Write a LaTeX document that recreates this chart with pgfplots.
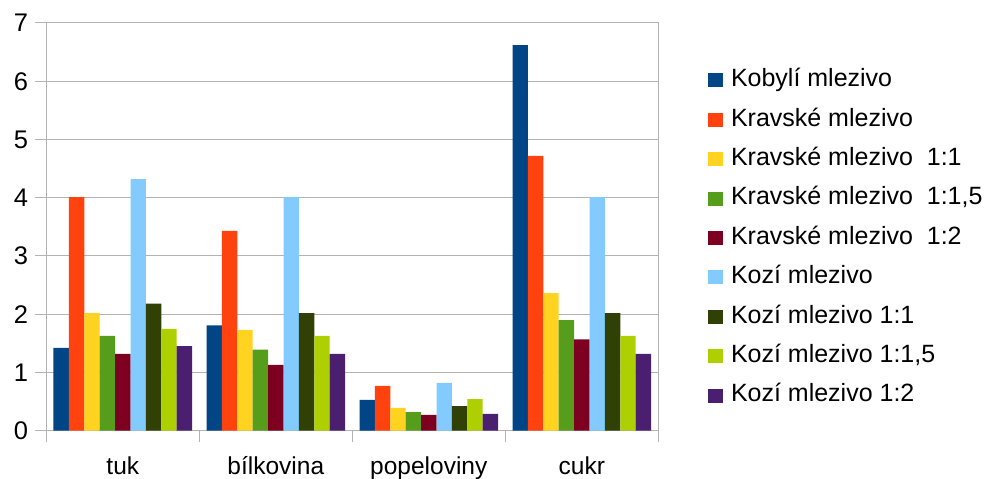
\documentclass[border=0pt]{standalone}
\usepackage{pgfplots}
\pgfplotsset{compat=1.18}
\usepackage{pgfplotstable}
\usepackage{fontspec}
\setmainfont{Liberation Sans}

\definecolor{c1}{HTML}{004586}
\definecolor{c2}{HTML}{FF420E}
\definecolor{c3}{HTML}{FFD320}
\definecolor{c4}{HTML}{579D1C}
\definecolor{c5}{HTML}{7E0021}
\definecolor{c6}{HTML}{83CAFF}
\definecolor{c7}{HTML}{314004}
\definecolor{c8}{HTML}{AECF00}
\definecolor{c9}{HTML}{4B1F6F}
\definecolor{gridgray}{HTML}{B3B3B3}

% composition of colostrum samples
\pgfplotstableread{
x kob krav krav11 krav115 krav12 koz koz11 koz115 koz12
0 1.42 4.01 2.02 1.63 1.32 4.32 2.18 1.75 1.45
1 1.81 3.43 1.73 1.39 1.13 4.01 2.02 1.63 1.32
2 0.53 0.77 0.39 0.32 0.27 0.82 0.42 0.54 0.29
3 6.62 4.72 2.36 1.90 1.57 4.01 2.02 1.63 1.32
}\data

% fixed row height for legend entries
\newcommand\lstrut{\rule[-11.6pt]{0pt}{38.8pt}}

\pgfplotsset{
  sqbar/.style={draw=none, fill=#1,
    legend image code/.code={\fill[##1] (0pt,-13.5pt) rectangle (15pt,0.5pt);}},
}

\begin{document}
\begin{tikzpicture}[x=1pt,y=1pt]
\begin{axis}[
  scale only axis, width=612pt, height=407.7pt,
  xmin=-0.5, xmax=3.5, ymin=0, ymax=7,
  ybar=0pt, bar width=15.4pt,
  xtick={0,1,2,3},
  xticklabels={tuk,bílkovina,popeloviny,cukr},
  minor xtick={-0.5,0.5,1.5,2.5,3.5},
  ytick={0,1,...,7},
  tick pos=left,
  tick align=outside,
  major tick length=11pt, minor tick length=11pt,
  major x tick style={draw=none},
  tick style={gridgray, line width=1pt},
  ymajorgrids,
  grid style={gridgray, line width=1pt},
  axis line style={gridgray, line width=1pt},
  /pgf/number format/assume math mode=true,
  yticklabel style={font=\fontsize{25.5}{30}\selectfont, anchor=east, inner sep=0pt, xshift=-7pt},
  xticklabel style={font=\fontsize{24.5}{30}\selectfont, anchor=base, inner sep=0pt, yshift=-33.3pt},
  legend style={at={(axis description cs:1,1)}, anchor=north west,
    xshift=49.7pt, yshift=-36.5pt,
    draw=none, fill=none, inner sep=0pt, outer sep=0pt,
    row sep=10.7pt, column sep=8pt,
    nodes={inner sep=0pt, outer sep=0pt},
    font=\fontsize{25}{30}\selectfont},
  legend cell align=left,
]
\coordinate (bl) at (rel axis cs:0,0);
\addplot[sqbar=c1] table[x=x,y=kob]{\data};
\addplot[sqbar=c2] table[x=x,y=krav]{\data};
\addplot[sqbar=c3] table[x=x,y=krav11]{\data};
\addplot[sqbar=c4] table[x=x,y=krav115]{\data};
\addplot[sqbar=c5] table[x=x,y=krav12]{\data};
\addplot[sqbar=c6] table[x=x,y=koz]{\data};
\addplot[sqbar=c7] table[x=x,y=koz11]{\data};
\addplot[sqbar=c8] table[x=x,y=koz115]{\data};
\addplot[sqbar=c9] table[x=x,y=koz12]{\data};
\legend{\lstrut Kobylí mlezivo, \lstrut Kravské mlezivo, \lstrut Kravské mlezivo\ \ 1:1,
  {\lstrut Kravské mlezivo\ \ 1:1,5}, \lstrut Kravské mlezivo\ \ 1:2, \lstrut Kozí mlezivo,
  \lstrut Kozí mlezivo 1:1, {\lstrut Kozí mlezivo 1:1,5}, \lstrut Kozí mlezivo 1:2}
\end{axis}
\pgfresetboundingbox
\path[use as bounding box] (bl) ++(-46.3,-48.3) rectangle ++(994,479);
\end{tikzpicture}
\end{document}
